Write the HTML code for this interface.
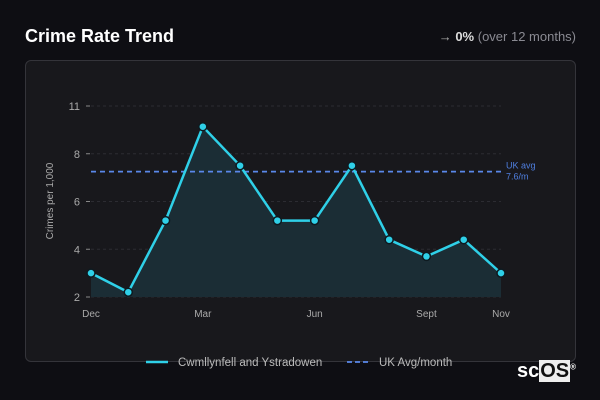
<!DOCTYPE html>
<html><head><meta charset="utf-8"><style>
body{margin:0;width:600px;height:400px;background:#0e0e13;font-family:"Liberation Sans",sans-serif;overflow:hidden;position:relative}
.t{position:absolute;left:25px;top:26px;color:#fff;font-weight:bold;font-size:18px}
.c{position:absolute;right:24px;top:29px;color:#8a8a92;font-size:13px}
.card{position:absolute;left:25px;top:60px;width:549px;height:300px;border:1px solid #34343a;border-radius:6px;background:#18181c}
</style></head><body>
<div class="t">Crime Rate Trend</div>
<div class="c"><span style="color:#aaa">→</span> <b style="color:#ddd">0%</b> (over 12 months)</div>
<div class="card"></div>
<svg id="s" width="600" height="400" style="position:absolute;left:0;top:0" font-family="Liberation Sans, sans-serif"></svg>
<div style="position:absolute;left:517px;top:360px;font-size:20px;font-weight:bold;color:#fff">sc<span style="background:#eee;color:#111;padding:0 1px">OS</span><sup style="font-size:8px">®</sup></div>
<script>
const months=["Dec","Jan","Feb","Mar","Apr","May","Jun","Jul","Aug","Sept","Oct","Nov"];
const xLabels=["Dec","Mar","Jun","Sept","Nov"];
const values=[3.0,2.2,5.2,9.7,7.5,5.2,5.2,7.5,4.4,3.7,4.4,3.0];
const yTicks=[2,4,6,8,11];
const ukAvg=7.25;
const ukLabel=["UK avg","7.6/m"];
const X0=91,X1=501,Y0=297,Y1=106;
function x(i){return X0+(X1-X0)*i/(months.length-1);}
function y(v){for(let k=0;k<yTicks.length-1;k++){const a=yTicks[k],b=yTicks[k+1];if(v<=b||k==yTicks.length-2){const step=(Y0-Y1)/(yTicks.length-1);return Y0-step*(k+(v-a)/(b-a));}}}
const s=document.getElementById('s');const NS="http://www.w3.org/2000/svg";
function el(t,a,p){const e=document.createElementNS(NS,t);for(const k in a)e.setAttribute(k,a[k]);(p||s).appendChild(e);return e;}
yTicks.forEach(v=>{
 const g=el('line',{x1:X0,x2:X1,y1:y(v),y2:y(v),stroke:'#2c2c32','stroke-dasharray':'3,3'});
 
 
 el('line',{x1:86,x2:90,y1:y(v),y2:y(v),stroke:'#888'});
 const t=el('text',{x:80,y:y(v)+4,'text-anchor':'end',fill:'#aaa','font-size':11});t.textContent=v;
 
 
});
const yt=el('text',{transform:'translate(53,201) rotate(-90)','text-anchor':'middle',fill:'#aaa','font-size':10});yt.textContent='Crimes per 1,000';


xLabels.forEach(l=>{const i=months.indexOf(l);const t=el('text',{x:x(i),y:317,'text-anchor':'middle',fill:'#aaa','font-size':10});t.textContent=l;
 
 });
let d=values.map((v,i)=>(i?'L':'M')+x(i)+','+y(v)).join('');
const area=el('path',{d:d+'L'+x(values.length-1)+','+Y0+'L'+X0+','+Y0+'Z',fill:'#1b2d35'});


const uk=el('line',{x1:X0,x2:X1,y1:y(ukAvg),y2:y(ukAvg),stroke:'#5a88ea','stroke-width':1.8,'stroke-dasharray':'5,4'});


ukLabel.forEach((l,k)=>{const t=el('text',{x:506,y:y(ukAvg)-3+k*11,fill:'#4f7fe0','font-size':9});t.textContent=l;
 
 });
const line=el('path',{d:d,fill:'none',stroke:'#2fd0e8','stroke-width':2.5,'stroke-linejoin':'round'});


values.forEach((v,i)=>{const c=el('circle',{cx:x(i),cy:y(v),r:4,fill:'#2fd0e8',stroke:'#0e1a20','stroke-width':1.5});
 
 });
const l1=el('line',{x1:146,x2:168,y1:362,y2:362,stroke:'#2fd0e8','stroke-width':2.5});


const t1=el('text',{x:178,y:366,fill:'#bbb','font-size':11.5});t1.textContent='Cwmllynfell and Ystradowen';


const l2=el('line',{x1:347,x2:371,y1:362,y2:362,stroke:'#5a88ea','stroke-width':1.8,'stroke-dasharray':'5,3'});


const t2=el('text',{x:379,y:366,fill:'#bbb','font-size':11.5});t2.textContent='UK Avg/month';


</script>
</body></html>
